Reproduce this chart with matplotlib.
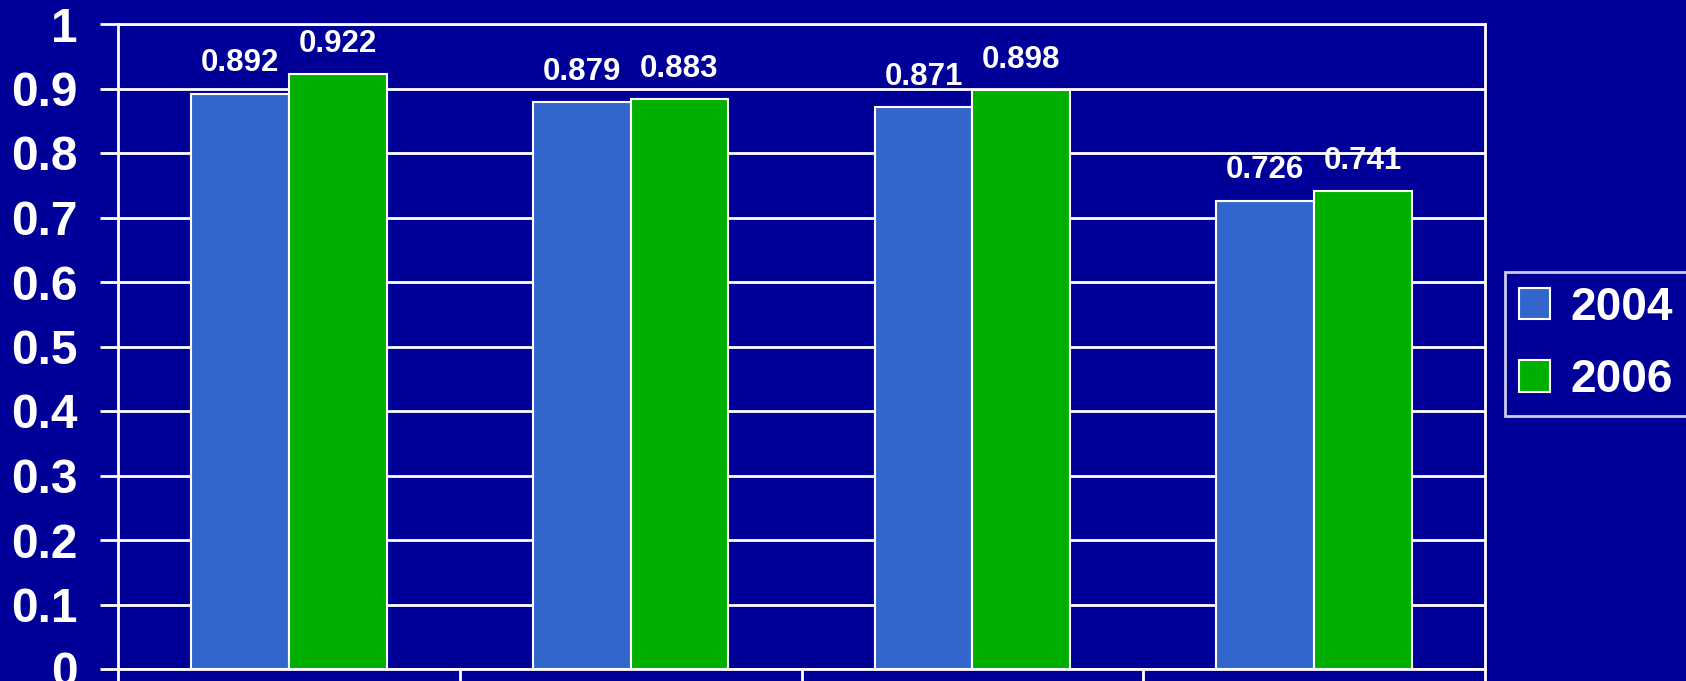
import matplotlib
matplotlib.use("Agg")
import matplotlib.pyplot as plt
import numpy as np

plt.rcParams['font.family'] = ['Liberation Sans', 'DejaVu Sans']

categories = ["A", "B", "C", "D"]
series_names = ["2004", "2006"]
values_2004 = [0.892, 0.879, 0.871, 0.726]
values_2006 = [0.922, 0.883, 0.898, 0.741]
y_ticks = [0, 0.1, 0.2, 0.3, 0.4, 0.5, 0.6, 0.7, 0.8, 0.9, 1.0]
y_tick_labels = ["0", "0.1", "0.2", "0.3", "0.4", "0.5", "0.6", "0.7", "0.8", "0.9", "1"]

bg = "#000099"
c_blue = "#3366CC"
c_green = "#00B000"

fig = plt.figure(figsize=(16.86, 6.81), dpi=100, facecolor=bg)
ax = fig.add_axes([118/1686, 12/681, (1485-118)/1686, (669-24)/681])
ax.set_facecolor(bg)

x = np.arange(len(categories))
w = 0.286
b1 = ax.bar(x - w/2, values_2004, w, color=c_blue, edgecolor="white", linewidth=1.5, label=series_names[0], zorder=3)
b2 = ax.bar(x + w/2, values_2006, w, color=c_green, edgecolor="white", linewidth=1.5, label=series_names[1], zorder=3)

for bars, vals in ((b1, values_2004), (b2, values_2006)):
    for r, v in zip(bars, vals):
        ax.annotate(f"{v:.3f}", (r.get_x() + r.get_width()/2, v), xytext=(0, 11),
                    textcoords="offset points", ha="center", va="bottom",
                    color="white", fontsize=22.5, fontweight="bold")

ax.set_xlim(-0.5, len(categories) - 0.5)
ax.set_ylim(0, 1)
ax.set_yticks(y_ticks)
ax.set_yticklabels(y_tick_labels)
ax.tick_params(axis="y", colors="white", length=13, width=2, pad=16, labelsize=34.5)
for t in ax.get_yticklabels():
    t.set_fontweight("bold")
ax.set_xticks(np.arange(-0.5, len(categories), 1.0))
ax.set_xticklabels([])
ax.tick_params(axis="x", colors="white", length=40, width=2, direction="out")
ax.yaxis.grid(True, color="white", linewidth=2, zorder=0)
ax.set_axisbelow(True)
for s in ax.spines.values():
    s.set_color("white")
    s.set_linewidth(2)

leg = fig.legend(handles=[b1, b2], labels=series_names, loc="center",
                 bbox_to_anchor=(1596/1686, 1 - 344/681), frameon=True, fancybox=False,
                 facecolor=bg, edgecolor="white", prop={"weight": "bold", "size": 33},
                 labelcolor="white", handlelength=0.68, handleheight=0.68, handletextpad=0.45,
                 borderpad=0.3, labelspacing=0.62, borderaxespad=0)
leg.get_frame().set_linewidth(2)

fig.savefig("out.png", dpi=100, facecolor=bg)
